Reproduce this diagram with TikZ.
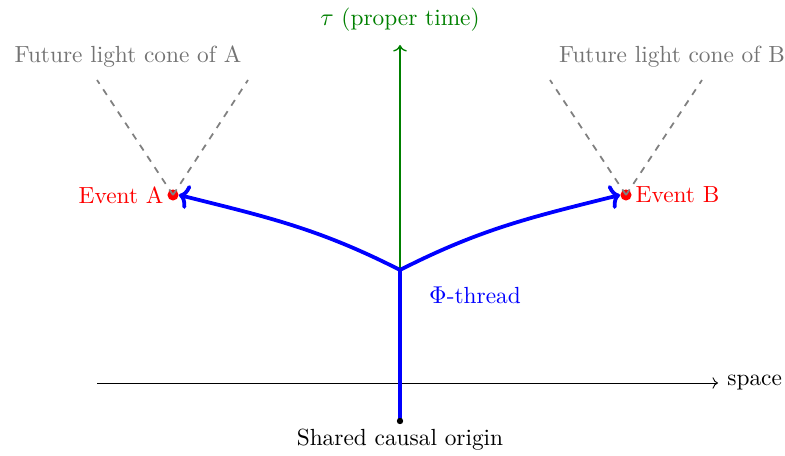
\documentclass[tikz,border=0pt]{standalone}
\usepackage{fontspec}
\usetikzlibrary{arrows.meta}
\begin{document}
\begin{tikzpicture}[x=0.45pt,y=-0.45pt,
  lbl/.style={font=\fontsize{10.5}{12}\selectfont, inner sep=1pt},
  cone/.style={gray, dashed, thick},
  thread/.style={blue, line width=1.7pt},
  bigtip/.style={-{To[length=4.5pt,width=11pt]}},
  evdot/.style={circle, fill=red, inner sep=0pt, minimum size=5pt}]
\useasboundingbox (0,0) rectangle (785,456);
% coordinates
\coordinate (O) at (400,421);
\coordinate (Br) at (400,270);
\coordinate (Ttop) at (400,45);
\coordinate (Tbot) at (400,383);
\coordinate (Sx0) at (97,383);
\coordinate (Sx1) at (718,383);
\coordinate (CA1) at (97,80);
\coordinate (CA2) at (248,80);
\coordinate (CB1) at (550,80);
\coordinate (CB2) at (702,80);
% axes
\draw[->] (Sx0) -- (Sx1) node[lbl, right, black, inner sep=4pt] (space) {space};
\draw[->, green!50!black, semithick] (Tbot) -- (Ttop);
\node[lbl, green!50!black] (tau) at (400,20) {$\tau$ (proper time)};
% light cones
\node[evdot] (A) at (173,195) {};
\node[evdot] (B) at (626,195) {};
\draw[cone] (A.center) -- (CA1);
\draw[cone] (A.center) -- (CA2);
\draw[cone] (B.center) -- (CB1);
\draw[cone] (B.center) -- (CB2);
\node[lbl, gray!90!black] (lcA) at (128,57) {Future light cone of A};
\node[lbl, gray!90!black] (lcB) at (672,57) {Future light cone of B};
% thread
\draw[thread] (O) -- (Br);
\draw[thread, bigtip] (Br) to[out=153,in=-14] (A.east);
\draw[thread, bigtip] (Br) to[out=27,in=194] (B.west);
\fill (O) circle (3.2);
\node[lbl, red, left] (evA) at (166,195) {Event A};
\node[lbl, red, right] (evB) at (633,195) {Event B};
\node[lbl, blue] (phi) at (475,295) {$\Phi$-thread};
\node[lbl] (orig) at (400,440) {Shared causal origin};
\end{tikzpicture}
\end{document}
